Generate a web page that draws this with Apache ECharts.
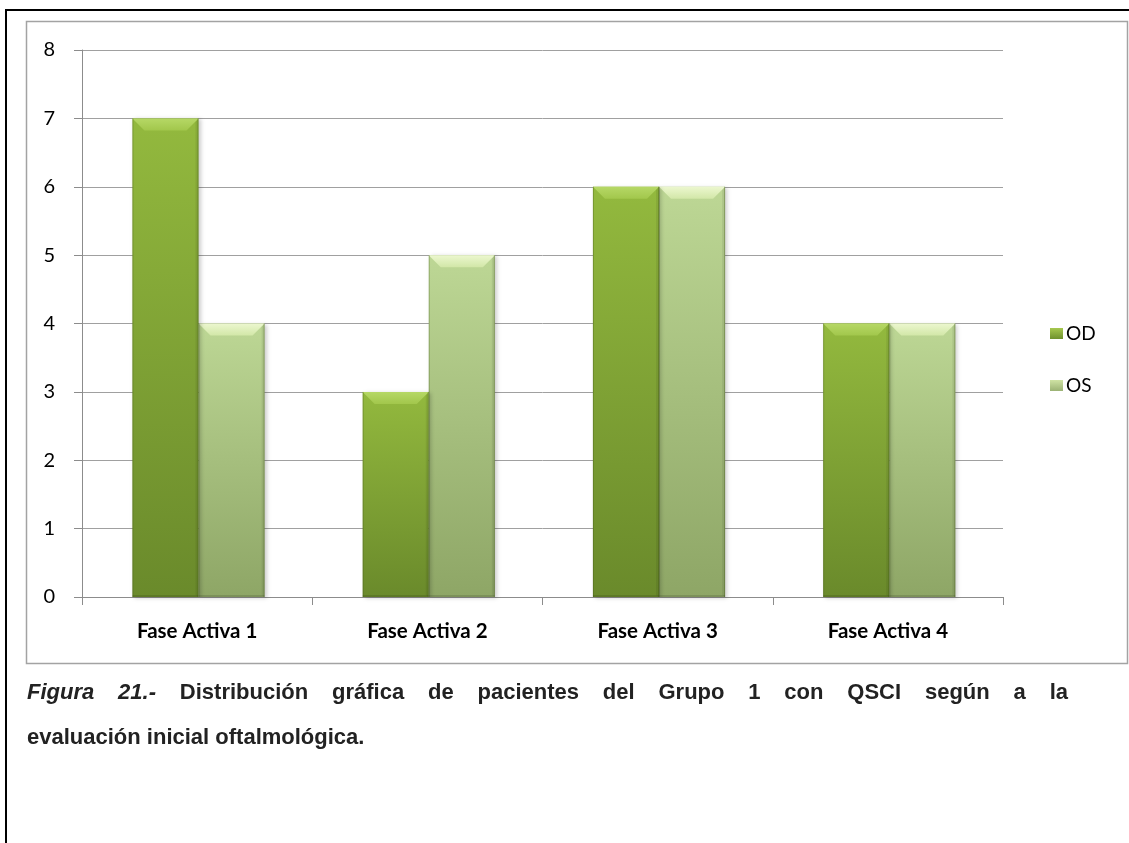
<!DOCTYPE html>
<html>
<head>
<meta charset="utf-8">
<script src="https://cdn.jsdelivr.net/npm/echarts@6/dist/echarts.min.js"></script>
<style>
html,body{margin:0;padding:0;background:#fff;}
#c{width:1129px;height:843px;}
</style>
</head>
<body>
<div id="c"></div>
<script>
// ---- data ----
const categories = ['Fase Activa 1', 'Fase Activa 2', 'Fase Activa 3', 'Fase Activa 4'];
const seriesNames = ['OD', 'OS'];
const odValues = [7, 3, 6, 4];
const osValues = [4, 5, 6, 4];
const yMin = 0, yMax = 8, yInterval = 1;
const captionLine1 = ['Figura', '21.-', 'Distribución', 'gráfica', 'de', 'pacientes', 'del', 'Grupo', '1', 'con', 'QSCI', 'según', 'a', 'la'];
const captionItalicCount = 2;
const captionLine2 = 'evaluación inicial oftalmológica.';

// ---- styles ----
const palettes = [
  {bodyTop: '#93b93e', bodyBot: '#6a8a2b', bevelTop: '#b6d866', bevelBot: '#a2c74c', legend: ['#a6c84f', '#6f912e']},
  {bodyTop: '#bdd795', bodyBot: '#8ea666', bevelTop: '#ecf7cf', bevelBot: '#d2e7a8', legend: ['#cfe3a4', '#9bb274']}
];

function grad(a, b) {
  return {type: 'linear', x: 0, y: 0, x2: 0, y2: 1, colorStops: [{offset: 0, color: a}, {offset: 1, color: b}]};
}

function makeRender(side) {
  const pal = palettes[side];
  return function (params, api) {
    const cat = api.value(0), val = api.value(1);
    const top = api.coord([cat, val]);
    const base = api.coord([cat, 0]);
    const bw = api.size([1, 0])[0];
    const w = bw * 0.287;
    const cx = top[0] + bw * 0.006;
    const x0 = side === 0 ? cx - w : cx;
    const x1 = x0 + w;
    const y0 = top[1], y1 = base[1];
    const b = Math.min(12, (y1 - y0) / 2);
    return {
      type: 'group',
      children: [
        {type: 'rect', shape: {x: x0, y: y0, width: w, height: y1 - y0},
          style: {fill: grad(pal.bodyTop, pal.bodyBot), shadowBlur: 4, shadowColor: 'rgba(0,0,0,0.2)', shadowOffsetX: 2, shadowOffsetY: 1}},
        {type: 'polygon', shape: {points: [[x1, y0], [x1 - 3, y0 + 3], [x1 - 3, y1 - 2], [x1, y1]]},
          style: {fill: 'rgba(0,0,0,0.07)'}},
        {type: 'rect', shape: {x: x0, y: y1 - 2, width: w, height: 2}, style: {fill: 'rgba(0,0,0,0.12)'}},
        {type: 'polygon', shape: {points: [[x0, y0], [x1, y0], [x1 - b, y0 + b], [x0 + b, y0 + b]]},
          style: {fill: grad(pal.bevelTop, pal.bevelBot)}},
        {type: 'line', shape: {x1: x0 + 0.5, y1: y0, x2: x0 + 0.5, y2: y1}, style: {stroke: 'rgba(60,80,20,0.3)', lineWidth: 1}},
        {type: 'line', shape: {x1: x1 - 0.5, y1: y0, x2: x1 - 0.5, y2: y1}, style: {stroke: 'rgba(60,80,20,0.35)', lineWidth: 1}}
      ]
    };
  };
}

// ---- caption layout (justified first line) ----
const capFont = 'bold 22px "Liberation Sans", Arial, sans-serif';
const capFontIt = 'italic bold 22px "Liberation Sans", Arial, sans-serif';
const mctx = document.createElement('canvas').getContext('2d');
function measure(t, f) { mctx.font = f; return mctx.measureText(t).width; }
const capLeft = 27, capRight = 1068, capY1 = 693, capY2 = 738;
const widths = captionLine1.map((wd, i) => measure(wd, i < captionItalicCount ? capFontIt : capFont));
const totalW = widths.reduce((a, b) => a + b, 0);
const gap = (capRight - capLeft - totalW) / (captionLine1.length - 1);
const captionEls = [];
let cxp = capLeft;
captionLine1.forEach((wd, i) => {
  captionEls.push({type: 'text', x: cxp, y: capY1,
    style: {text: wd, font: i < captionItalicCount ? capFontIt : capFont, fill: '#222', verticalAlign: 'middle', align: 'left'}});
  cxp += widths[i] + gap;
});
captionEls.push({type: 'text', x: capLeft, y: capY2,
  style: {text: captionLine2, font: capFont, fill: '#222', verticalAlign: 'middle', align: 'left'}});

const chart = echarts.init(document.getElementById('c'), null, {renderer: 'canvas'});
chart.setOption({
  backgroundColor: '#fff',
  animation: false,
  grid: {left: 82, right: 126, top: 50, bottom: 246, containLabel: false},
  legend: {
    orient: 'vertical', left: 1045, top: 319,
    itemWidth: 13, itemHeight: 11, itemGap: 33,
    icon: 'rect',
    data: seriesNames,
    textStyle: {fontFamily: 'Lato', fontSize: 19, color: '#000', padding: [0, 0, 0, -2]}
  },
  xAxis: {
    type: 'category', data: categories,
    axisLine: {lineStyle: {color: '#8c8c8c', width: 1}},
    axisTick: {show: true, length: 8, lineStyle: {color: '#8c8c8c'}},
    axisLabel: {fontFamily: 'Lato', fontWeight: 'bold', fontSize: 20.5, color: '#000', margin: 24}
  },
  yAxis: {
    type: 'value', min: yMin, max: yMax, interval: yInterval,
    axisLine: {show: true, lineStyle: {color: '#8c8c8c', width: 1}},
    axisTick: {show: true, length: 8, lineStyle: {color: '#8c8c8c'}},
    axisLabel: {fontFamily: 'Lato', fontSize: 20, color: '#000', margin: 27},
    splitLine: {lineStyle: {color: '#a0a0a0', width: 1}}
  },
  series: [
    {name: seriesNames[0], type: 'custom', renderItem: makeRender(0),
      itemStyle: {color: grad(palettes[0].legend[0], palettes[0].legend[1])},
      encode: {x: 0, y: 1}, data: odValues.map((v, i) => [i, v]), z: 3},
    {name: seriesNames[1], type: 'custom', renderItem: makeRender(1),
      itemStyle: {color: grad(palettes[1].legend[0], palettes[1].legend[1])},
      encode: {x: 0, y: 1}, data: osValues.map((v, i) => [i, v]), z: 2}
  ],
  graphic: [
    {type: 'line', shape: {x1: 5, y1: 10, x2: 1129, y2: 10}, style: {stroke: '#000', lineWidth: 2}, silent: true},
    {type: 'line', shape: {x1: 6, y1: 9, x2: 6, y2: 843}, style: {stroke: '#000', lineWidth: 2}, silent: true},
    {type: 'rect', shape: {x: 26.5, y: 21.5, width: 1101, height: 642}, style: {fill: 'none', stroke: '#a3a3a3', lineWidth: 1.5}, silent: true},
    {type: 'group', children: captionEls, silent: true}
  ]
});
</script>
</body>
</html>
